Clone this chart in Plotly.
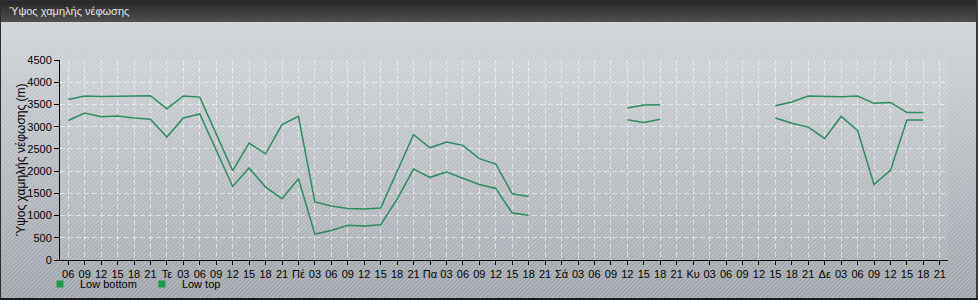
import base64
import plotly.graph_objects as go

# ---- data ----
tick_labels = ["06", "09", "12", "15", "18", "21",
               "Τε", "03", "06", "09", "12", "15", "18", "21",
               "Πέ", "03", "06", "09", "12", "15", "18", "21",
               "Πα", "03", "06", "09", "12", "15", "18", "21",
               "Σά", "03", "06", "09", "12", "15", "18", "21",
               "Κυ", "03", "06", "09", "12", "15", "18", "21",
               "Δε", "03", "06", "09", "12", "15", "18", "21"]
x_idx = list(range(len(tick_labels)))

N = None
low_bottom = [3140, 3305, 3225, 3240, 3195, 3165, 2765, 3195, 3285, 2470,
              1655, 2070, 1640, 1380, 1830, 585, 665, 780, 765, 795,
              1370, 2045, 1860, 1980, 1835, 1700, 1610, 1055, 1005, N,
              N, N, N, N, 3155, 3095, 3165, N, N, N,
              N, N, N, 3195, 3075, 2990, 2735, 3230, 2915, 1700,
              2015, 3150, 3150, N]
low_top = [3610, 3690, 3680, 3680, 3685, 3695, 3400, 3690, 3665, 2840,
           2010, 2630, 2390, 3045, 3230, 1305, 1215, 1160, 1150, 1170,
           1995, 2820, 2525, 2655, 2580, 2280, 2160, 1490, 1430, N,
           N, N, N, N, 3420, 3485, 3495, N, N, N,
           N, N, N, 3470, 3555, 3690, 3675, 3675, 3690, 3525,
           3545, 3320, 3320, N]

series_names = ["Low bottom", "Low top"]
line_color = "#2b8c5c"

W, H = 978, 300
ML, MR, MT, MB = 60, 30, 60, 40
PW, PH = W - ML - MR, H - MT - MB

svg = f"""<svg xmlns='http://www.w3.org/2000/svg' width='{W}' height='{H}' viewBox='0 0 {W} {H}'>
<defs>
<linearGradient id='bg' x1='0' y1='0' x2='0' y2='1'>
<stop offset='0' stop-color='#d5d8db'/><stop offset='1' stop-color='#9ea2a6'/></linearGradient>
<linearGradient id='tb' x1='0' y1='0' x2='0' y2='1'>
<stop offset='0' stop-color='#242424'/><stop offset='1' stop-color='#505050'/></linearGradient>
<pattern id='st' width='3' height='3' patternUnits='userSpaceOnUse' patternTransform='rotate(45)'>
<rect width='1' height='3' fill='#e4eef8' fill-opacity='0.35'/></pattern>
</defs>
<rect width='{W}' height='{H}' fill='url(#bg)'/>
<rect width='{W}' height='{H}' fill='url(#st)'/>
<rect x='{ML}' y='{MT}' width='{PW}' height='{PH}' fill='#ffffff' fill-opacity='0.07'/>
<rect width='{W}' height='22' fill='url(#tb)'/>
<rect x='0.5' y='0.5' width='{W-1.5}' height='{H-1.5}' fill='none' stroke='#2e2e2e' stroke-width='1'/>
<line x1='{W-1}' y1='0' x2='{W-1}' y2='{H}' stroke='#3a3a3a' stroke-width='2'/>
<line x1='0' y1='{H-1}' x2='{W}' y2='{H-1}' stroke='#1a1a1a' stroke-width='2'/>
</svg>"""
img_src = "data:image/svg+xml;base64," + base64.b64encode(svg.encode("utf-8")).decode("ascii")

fig = go.Figure()
for name, vals in zip(series_names, [low_bottom, low_top]):
    fig.add_trace(go.Scatter(x=x_idx, y=vals, mode="lines", name=name,
                             line=dict(color=line_color, width=1.5),
                             connectgaps=False, showlegend=False, legendgroup=name))
    fig.add_trace(go.Scatter(x=[None], y=[None], mode="markers", name=name,
                             marker=dict(symbol="square", size=7, color="#1e9a4a"),
                             showlegend=True, legendgroup=name))

font_fam = "Liberation Sans, Arial, sans-serif"
fig.update_layout(
    width=W, height=H,
    margin=dict(l=ML, r=MR, t=MT, b=MB, pad=0, autoexpand=False),
    paper_bgcolor="#c0c4c8",
    plot_bgcolor="rgba(0,0,0,0)",
    font=dict(family=font_fam, size=11, color="#000000"),
    images=[dict(source=img_src, xref="paper", yref="paper",
                 x=-ML / PW, y=1 + MT / PH, sizex=W / PW, sizey=H / PH,
                 xanchor="left", yanchor="top", sizing="stretch", layer="below")],
    annotations=[
        dict(text="Ύψος χαμηλής νέφωσης", xref="paper", yref="paper",
             x=(7 - ML) / PW, y=1 + (MT - 11) / PH, xanchor="left", yanchor="middle",
             showarrow=False, font=dict(size=11, color="#e8e8e8", family=font_fam)),
        dict(text="Ύψος χαμηλής νέφωσης (m)", xref="paper", yref="paper",
             x=(21 - ML) / PW, y=0.5, xanchor="center", yanchor="middle", textangle=-90,
             showarrow=False, font=dict(size=12, color="#000000", family=font_fam)),
    ],
    legend=dict(orientation="h", x=(40 - ML) / PW, y=-(284 - (MT + PH)) / PH,
                xanchor="left", yanchor="middle", bgcolor="rgba(0,0,0,0)",
                font=dict(size=11, color="#000000"), itemwidth=30, tracegroupgap=0),
    showlegend=True,
)
fig.update_xaxes(range=[-0.5, 53.5], tickmode="array", tickvals=x_idx, ticktext=tick_labels,
                 showline=True, linecolor="#000000", linewidth=1,
                 ticks="outside", ticklen=4, tickcolor="#000000",
                 showgrid=True, gridcolor="rgba(255,255,255,0.55)", griddash="5px,3px", gridwidth=1,
                 zeroline=False, tickangle=0, tickfont=dict(size=11))
fig.update_yaxes(range=[0, 4500], dtick=500, tick0=0,
                 showline=True, linecolor="#000000", linewidth=1,
                 ticks="outside", ticklen=5, tickcolor="#000000",
                 showgrid=True, gridcolor="rgba(255,255,255,0.55)", griddash="5px,3px", gridwidth=1,
                 zeroline=False, tickfont=dict(size=11))

fig.write_html("out.html")
